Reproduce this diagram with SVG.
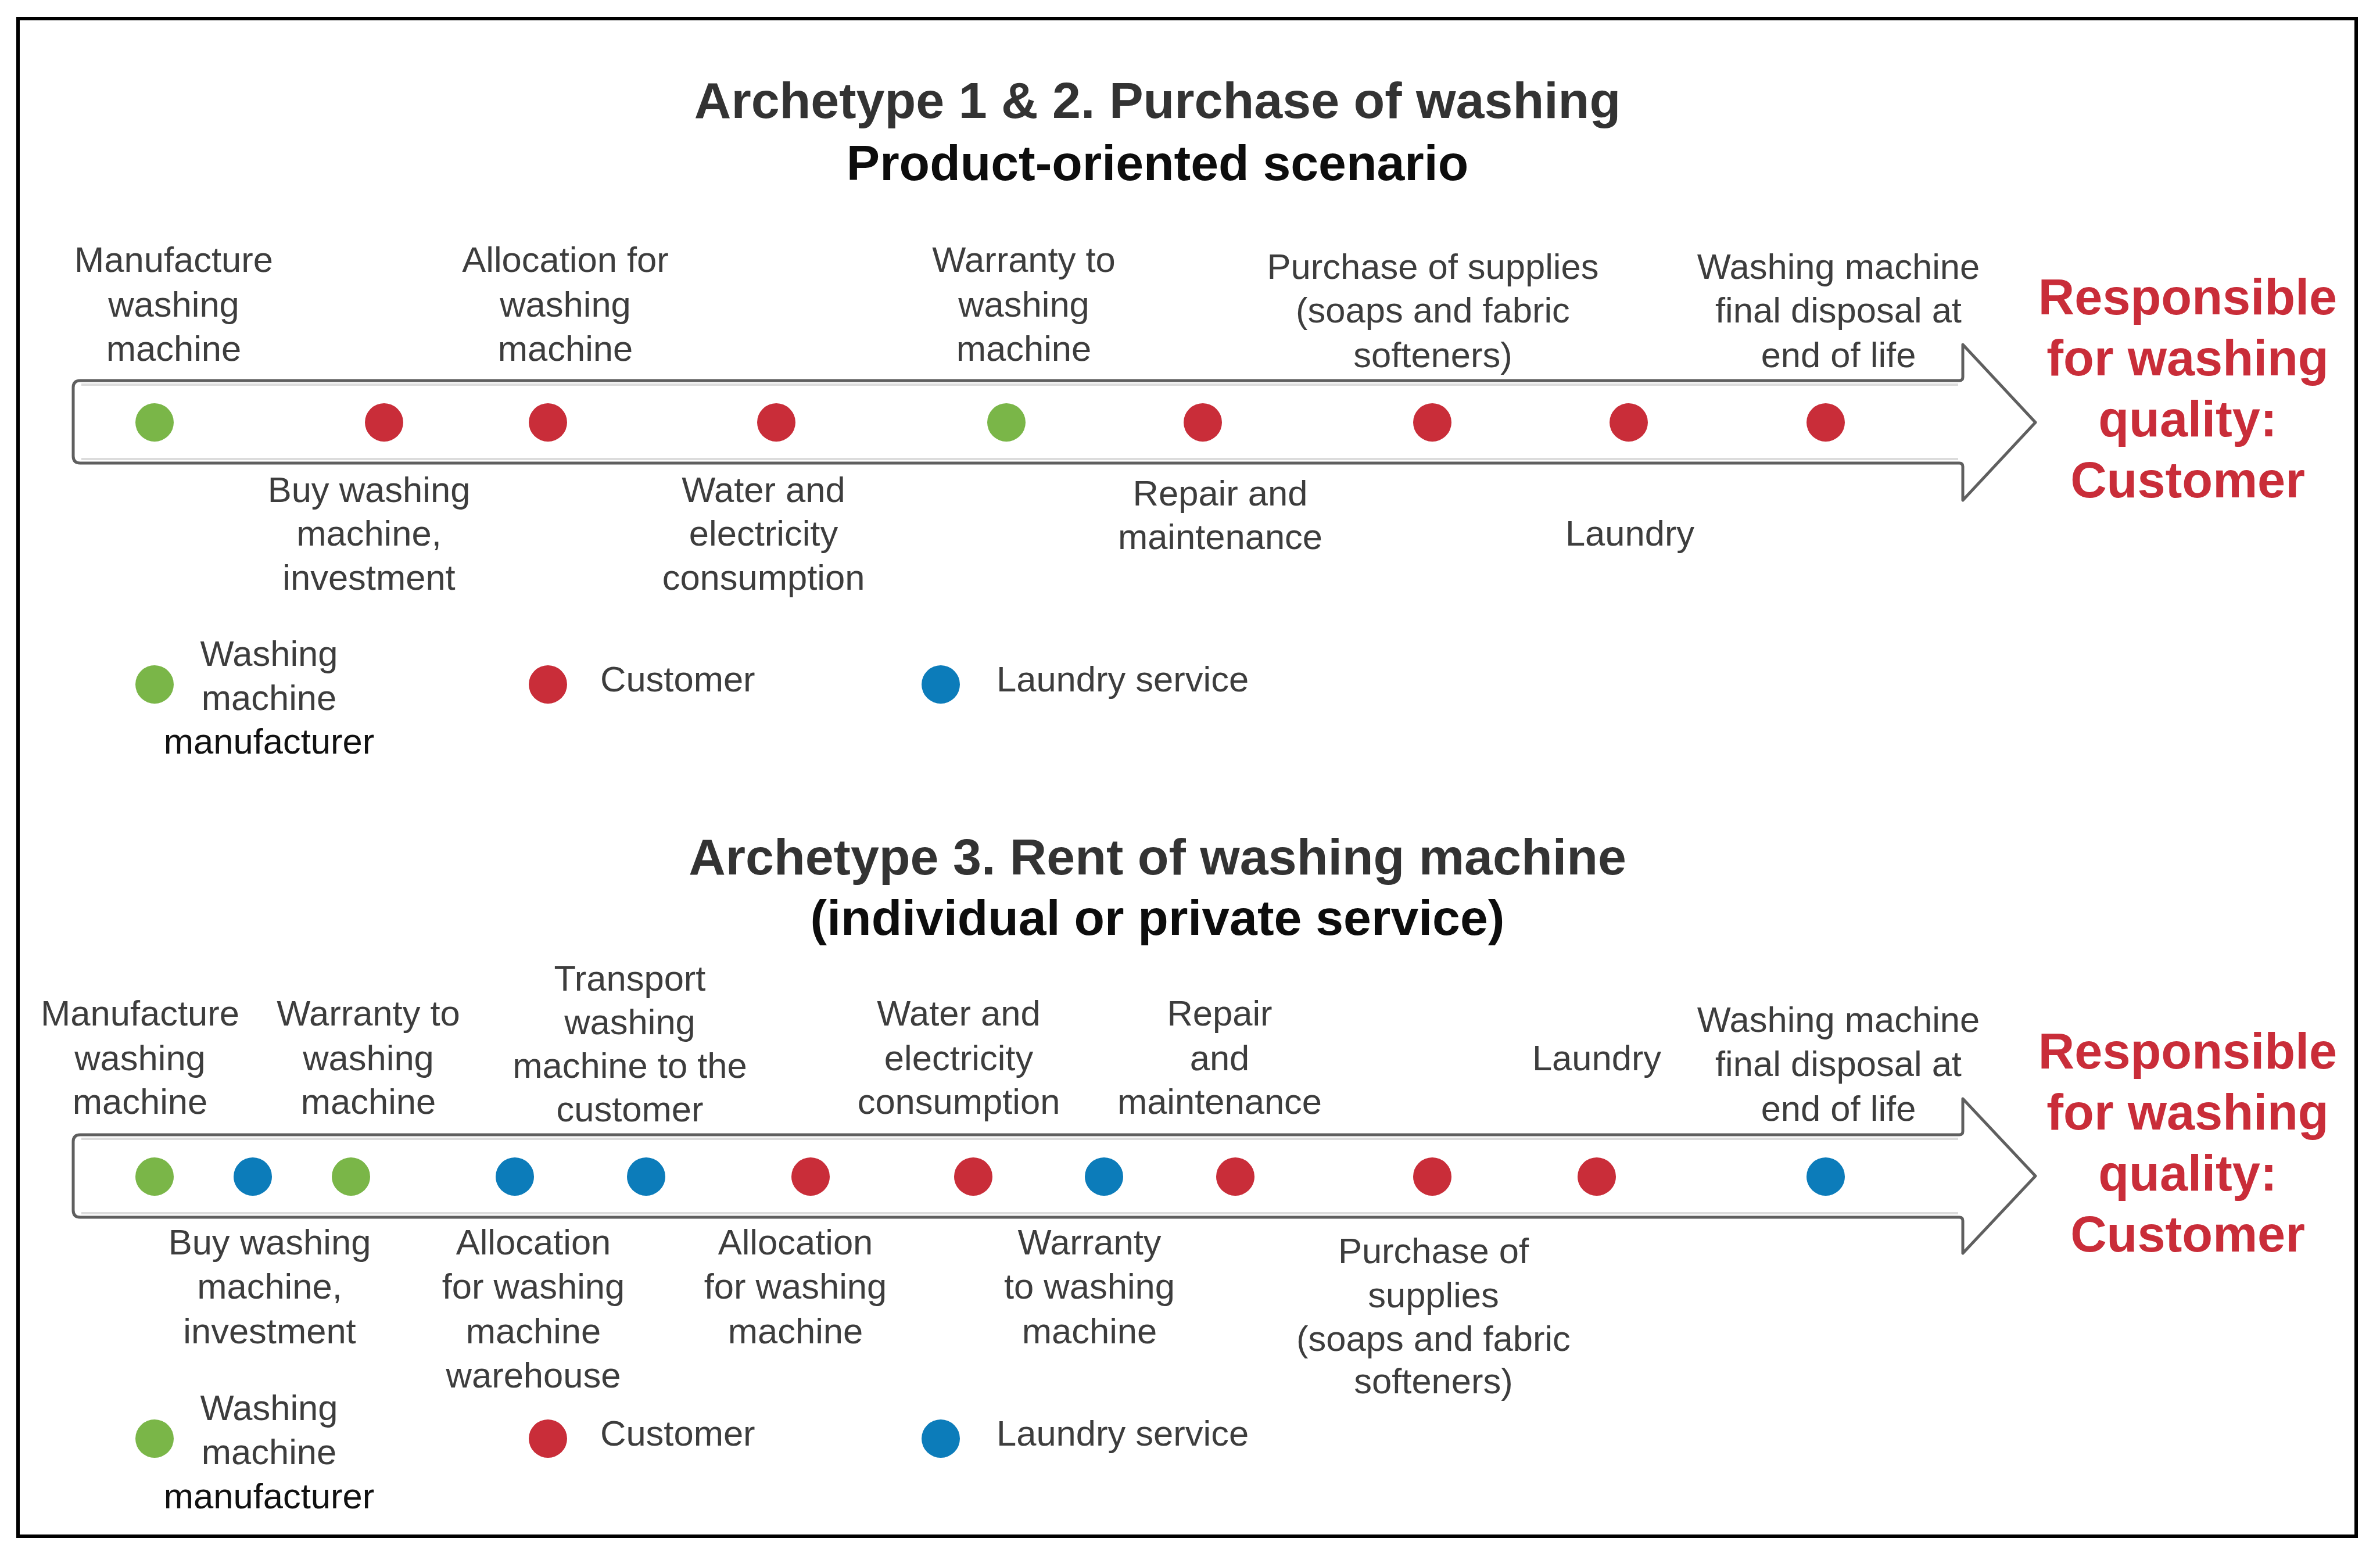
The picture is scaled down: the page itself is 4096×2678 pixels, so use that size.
<svg xmlns="http://www.w3.org/2000/svg" width="4096" height="2678" viewBox="0 0 4096 2678">
<style>
text{font-family:"Liberation Sans",Arial,sans-serif}
.lbl{font-size:61.5px;fill:#3d3d3d;text-anchor:middle}
.leg{font-size:61.5px;fill:#3d3d3d}
.dark{fill:#111}
.t1{font-size:88px;font-weight:bold;fill:#333;text-anchor:middle}
.t2{font-size:86px;font-weight:bold;fill:#0d0d0d;text-anchor:middle}
.resp{font-size:86.5px;font-weight:bold;fill:#c92d39;text-anchor:middle}
.g{fill:#7ab648}.r{fill:#c92d39}.b{fill:#0c7cba}
.arrow{fill:#fff;stroke:#5f5f5f;stroke-width:5;stroke-linejoin:round}
.inner{stroke:#dcdcdc;stroke-width:4;fill:none}
</style>
<rect x="0" y="0" width="4096" height="2678" fill="#fff"/>
<rect id="frame" x="31" y="32" width="4024" height="2612" fill="none" stroke="#000" stroke-width="6"/>

<g id="connectors">
  <path class="arrow" d="M138,655 H3372 Q3378,655 3378,649 V593 L3503,727 L3378,861 V803 Q3378,797 3372,797 H138 Q126,797 126,785 V667 Q126,655 138,655 Z"/>
  <path class="inner" d="M140,662 H3370 M140,790 H3370"/>
  <path class="arrow" d="M138,1953 H3372 Q3378,1953 3378,1947 V1891 L3503,2024 L3378,2157 V2101 Q3378,2095 3372,2095 H138 Q126,2095 126,2083 V1965 Q126,1953 138,1953 Z"/>
  <path class="inner" d="M140,1960 H3370 M140,2088 H3370"/>
</g>

<g id="section1">
  <g id="title1">
    <text class="t1" x="1992" y="203">Archetype 1 &amp; 2. Purchase of washing</text>
    <text class="t2" x="1992" y="310">Product-oriented scenario</text>
  </g>
  <g id="s1-e1"><circle class="g" cx="266" cy="727" r="33"/>
    <text class="lbl"><tspan x="299" y="468">Manufacture</tspan><tspan x="299" y="545">washing</tspan><tspan x="299" y="621">machine</tspan></text></g>
  <g id="s1-e2"><circle class="r" cx="661" cy="727" r="33"/>
    <text class="lbl"><tspan x="635" y="864">Buy washing</tspan><tspan x="635" y="939">machine,</tspan><tspan x="635" y="1015">investment</tspan></text></g>
  <g id="s1-e3"><circle class="r" cx="943" cy="727" r="33"/>
    <text class="lbl"><tspan x="973" y="468">Allocation for</tspan><tspan x="973" y="545">washing</tspan><tspan x="973" y="621">machine</tspan></text></g>
  <g id="s1-e4"><circle class="r" cx="1336" cy="727" r="33"/>
    <text class="lbl"><tspan x="1314" y="864">Water and</tspan><tspan x="1314" y="939">electricity</tspan><tspan x="1314" y="1015">consumption</tspan></text></g>
  <g id="s1-e5"><circle class="g" cx="1732" cy="727" r="33"/>
    <text class="lbl"><tspan x="1762" y="468">Warranty to</tspan><tspan x="1762" y="545">washing</tspan><tspan x="1762" y="621">machine</tspan></text></g>
  <g id="s1-e6"><circle class="r" cx="2070" cy="727" r="33"/>
    <text class="lbl"><tspan x="2100" y="870">Repair and</tspan><tspan x="2100" y="945">maintenance</tspan></text></g>
  <g id="s1-e7"><circle class="r" cx="2465" cy="727" r="33"/>
    <text class="lbl"><tspan x="2466" y="480">Purchase of supplies</tspan><tspan x="2466" y="555">(soaps and fabric</tspan><tspan x="2466" y="632">softeners)</tspan></text></g>
  <g id="s1-e8"><circle class="r" cx="2803" cy="727" r="33"/>
    <text class="lbl" x="2805" y="939">Laundry</text></g>
  <g id="s1-e9"><circle class="r" cx="3142" cy="727" r="33"/>
    <text class="lbl"><tspan x="3164" y="480">Washing machine</tspan><tspan x="3164" y="555">final disposal at</tspan><tspan x="3164" y="632">end of life</tspan></text></g>
  <g id="s1-resp">
    <text class="resp"><tspan x="3765" y="541">Responsible</tspan><tspan x="3765" y="646">for washing</tspan><tspan x="3765" y="751">quality:</tspan><tspan x="3765" y="856">Customer</tspan></text>
  </g>
  <g id="s1-legend">
    <circle class="g" cx="266" cy="1178" r="33"/>
    <text class="lbl"><tspan x="463" y="1146">Washing</tspan><tspan x="463" y="1222">machine</tspan><tspan class="dark" x="463" y="1297">manufacturer</tspan></text>
    <circle class="r" cx="943" cy="1178" r="33"/>
    <text class="leg" x="1033" y="1190">Customer</text>
    <circle class="b" cx="1619" cy="1178" r="33"/>
    <text class="leg" x="1715" y="1190">Laundry service</text>
  </g>
</g>

<g id="section2">
  <g id="title2">
    <text class="t1" x="1992" y="1505">Archetype 3. Rent of washing machine</text>
    <text class="t2" x="1992" y="1609">(individual or private service)</text>
  </g>
  <g id="s2-e1"><circle class="g" cx="266" cy="2025" r="33"/>
    <text class="lbl"><tspan x="241" y="1765">Manufacture</tspan><tspan x="241" y="1842">washing</tspan><tspan x="241" y="1917">machine</tspan></text></g>
  <g id="s2-e2"><circle class="b" cx="435" cy="2025" r="33"/>
    <text class="lbl"><tspan x="464" y="2159">Buy washing</tspan><tspan x="464" y="2235">machine,</tspan><tspan x="464" y="2312">investment</tspan></text></g>
  <g id="s2-e3"><circle class="g" cx="604" cy="2025" r="33"/>
    <text class="lbl"><tspan x="634" y="1765">Warranty to</tspan><tspan x="634" y="1842">washing</tspan><tspan x="634" y="1917">machine</tspan></text></g>
  <g id="s2-e4"><circle class="b" cx="886" cy="2025" r="33"/>
    <text class="lbl"><tspan x="918" y="2159">Allocation</tspan><tspan x="918" y="2235">for washing</tspan><tspan x="918" y="2312">machine</tspan><tspan x="918" y="2388">warehouse</tspan></text></g>
  <g id="s2-e5"><circle class="b" cx="1112" cy="2025" r="33"/>
    <text class="lbl"><tspan x="1084" y="1705">Transport</tspan><tspan x="1084" y="1780">washing</tspan><tspan x="1084" y="1855">machine to the</tspan><tspan x="1084" y="1930">customer</tspan></text></g>
  <g id="s2-e6"><circle class="r" cx="1395" cy="2025" r="33"/>
    <text class="lbl"><tspan x="1369" y="2159">Allocation</tspan><tspan x="1369" y="2235">for washing</tspan><tspan x="1369" y="2312">machine</tspan></text></g>
  <g id="s2-e7"><circle class="r" cx="1675" cy="2025" r="33"/>
    <text class="lbl"><tspan x="1650" y="1765">Water and</tspan><tspan x="1650" y="1842">electricity</tspan><tspan x="1650" y="1917">consumption</tspan></text></g>
  <g id="s2-e8"><circle class="b" cx="1900" cy="2025" r="33"/>
    <text class="lbl"><tspan x="1875" y="2159">Warranty</tspan><tspan x="1875" y="2235">to washing</tspan><tspan x="1875" y="2312">machine</tspan></text></g>
  <g id="s2-e9"><circle class="r" cx="2126" cy="2025" r="33"/>
    <text class="lbl"><tspan x="2099" y="1765">Repair</tspan><tspan x="2099" y="1842">and</tspan><tspan x="2099" y="1917">maintenance</tspan></text></g>
  <g id="s2-e10"><circle class="r" cx="2465" cy="2025" r="33"/>
    <text class="lbl"><tspan x="2467" y="2174">Purchase of</tspan><tspan x="2467" y="2250">supplies</tspan><tspan x="2467" y="2325">(soaps and fabric</tspan><tspan x="2467" y="2398">softeners)</tspan></text></g>
  <g id="s2-e11"><circle class="r" cx="2748" cy="2025" r="33"/>
    <text class="lbl" x="2748" y="1842">Laundry</text></g>
  <g id="s2-e12"><circle class="b" cx="3142" cy="2025" r="33"/>
    <text class="lbl"><tspan x="3164" y="1776">Washing machine</tspan><tspan x="3164" y="1852">final disposal at</tspan><tspan x="3164" y="1929">end of life</tspan></text></g>
  <g id="s2-resp">
    <text class="resp"><tspan x="3765" y="1839">Responsible</tspan><tspan x="3765" y="1944">for washing</tspan><tspan x="3765" y="2049">quality:</tspan><tspan x="3765" y="2154">Customer</tspan></text>
  </g>
  <g id="s2-legend">
    <circle class="g" cx="266" cy="2476" r="33"/>
    <text class="lbl"><tspan x="463" y="2444">Washing</tspan><tspan x="463" y="2520">machine</tspan><tspan class="dark" x="463" y="2596">manufacturer</tspan></text>
    <circle class="r" cx="943" cy="2476" r="33"/>
    <text class="leg" x="1033" y="2488">Customer</text>
    <circle class="b" cx="1619" cy="2476" r="33"/>
    <text class="leg" x="1715" y="2488">Laundry service</text>
  </g>
</g>
</svg>
